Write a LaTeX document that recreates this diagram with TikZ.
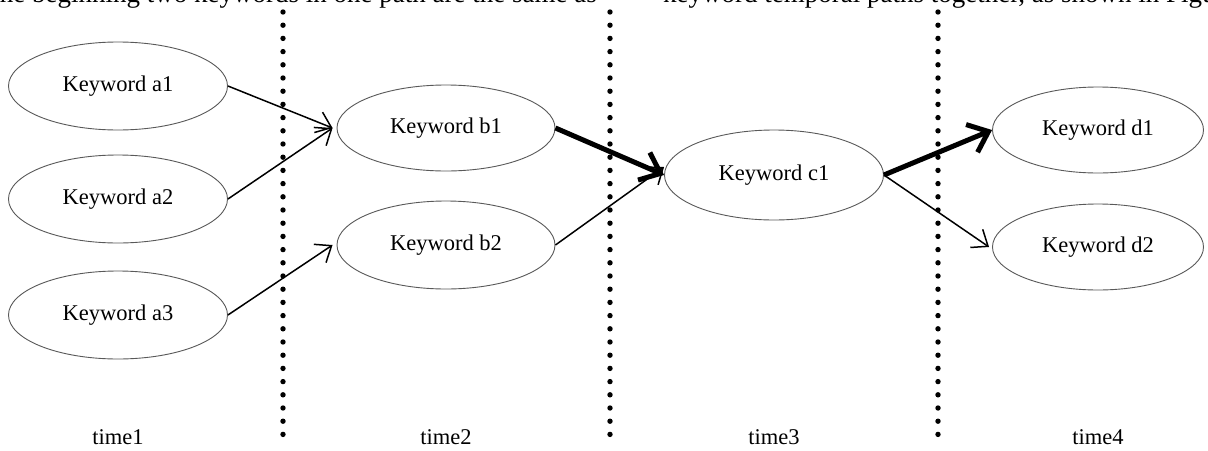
\documentclass[tikz,border=0pt]{standalone}
\usepackage{fontspec}
\setmainfont{Liberation Serif}
\usetikzlibrary{shapes.geometric,arrows.meta}
\begin{document}
\begin{tikzpicture}[x=1pt,y=-1pt,
  kw/.style={ellipse,draw=black!65,line width=0.9pt,minimum width=219pt,minimum height=88pt,inner sep=0pt,font=\fontsize{22.5}{26}\selectfont},
  thin/.style={line width=1.5pt,-{Straight Barb[length=14pt,width=22pt,line width=1.5pt]}},
  thick/.style={line width=5pt,-{Straight Barb[length=18pt,width=30pt,line width=5pt]}},
  lbl/.style={font=\fontsize{22.5}{26}\selectfont,inner sep=0pt},
  toptxt/.style={font=\fontsize{27}{30}\selectfont,inner sep=0pt},
  dotc/.style={fill=black,draw=none}]
\useasboundingbox (0,0) rectangle (1208,450);
\clip (0,0) rectangle (1208,450);
\fill[white] (0,0) rectangle (1208,450);
% cut-off text at top
\node[toptxt,anchor=base east] (t1) at (597,2) {he beginning two keywords in one path are the same as};
\node[toptxt,anchor=base west] (t2) at (663,2) {keyword temporal paths together, as shown in Figure};
% dotted separators
\foreach \xx in {283,610,938}{
  \foreach \i in {0,...,32}{
    \fill[dotc] (\xx,12+\i*13.2) circle (2.7pt);
  }
}
% nodes
\node[kw] (a1) at (118,86) {Keyword a1};
\node[kw] (a2) at (118,199) {Keyword a2};
\node[kw] (a3) at (118,315) {Keyword a3};
\node[kw,minimum width=218pt,minimum height=86pt] (b1) at (446,128) {Keyword b1};
\node[kw,minimum width=218pt,minimum height=88pt] (b2) at (446,245) {Keyword b2};
\node[kw,minimum width=219pt,minimum height=90pt] (c1) at (774,175) {Keyword c1};
\node[kw,minimum width=211pt,minimum height=86pt] (d1) at (1098,130) {Keyword d1};
\node[kw,minimum width=211pt,minimum height=86pt] (d2) at (1098,247) {Keyword d2};
% time labels
\node[lbl] (time1) at (118,437) {time1};
\node[lbl] (time2) at (446,437) {time2};
\node[lbl] (time3) at (774,437) {time3};
\node[lbl] (time4) at (1098,437) {time4};
% connectors
\draw[thin] (a1.east) -- ([xshift=-4pt]b1.west);
\draw[thin] (a2.east) -- ([xshift=-4pt]b1.west);
\draw[thin] (a3.east) -- ([xshift=-4pt]b2.west);
\draw[thick] (b1.east) -- (c1.west);
\draw[thin] (b2.east) -- ([yshift=8pt]c1.west);
\draw[thick] (c1.east) -- (d1.west);
\draw[thin] (c1.east) -- ([xshift=-3pt]d2.west);
\end{tikzpicture}
\end{document}
